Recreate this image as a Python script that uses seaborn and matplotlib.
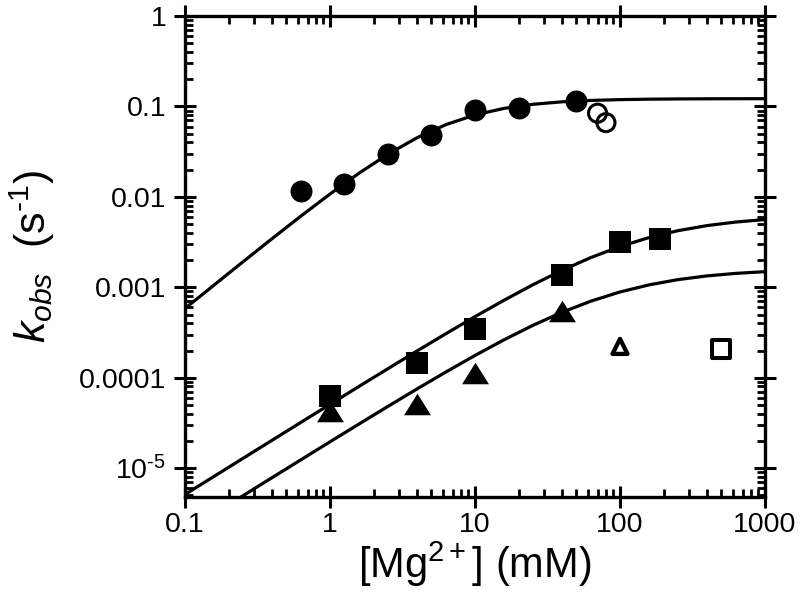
import matplotlib
matplotlib.use("Agg")
import matplotlib.pyplot as plt
import seaborn as sns
import pandas as pd
from matplotlib.ticker import FixedLocator, FixedFormatter, LogLocator, NullFormatter
from matplotlib.markers import MarkerStyle
from matplotlib.path import Path

# ---------------- data ----------------
circle_x = [0.63, 1.25, 2.5, 5, 10, 20, 50]
circle_y = [0.0115, 0.0140, 0.0297, 0.0485, 0.0917, 0.0958, 0.1153]
open_circle_x = [70, 80]
open_circle_y = [0.0842, 0.0662]

square_x = [1, 4, 10, 40, 100, 190]
square_y = [6.35e-5, 1.46e-4, 3.42e-4, 1.365e-3, 3.19e-3, 3.42e-3]
open_square_x = [500]
open_square_y = [2.06e-4]

triangle_x = [1, 4, 10, 40]
triangle_y = [4.25e-5, 5.06e-5, 1.135e-4, 5.47e-4]
open_triangle_x = [100]
open_triangle_y = [2.22e-4]

# fitted curves
fit_x = [0.1, 0.1585, 0.2512, 0.3981, 0.631, 1.0, 1.585, 2.512, 3.981, 6.31,
         10.0, 15.85, 25.12, 39.81, 63.1, 100.0, 158.5, 251.2, 398.1, 631.0, 1000.0]
fit_circle_y = [0.000583, 0.001058, 0.001915, 0.003448, 0.006143, 0.010752,
                0.018277, 0.029659, 0.045057, 0.062993, 0.080585, 0.095178,
                0.105664, 0.112462, 0.116578, 0.118965, 0.120316, 0.121070,
                0.121489, 0.121719, 0.121845]
fit_square_y = [5.118e-6, 8.108e-6, 1.2841e-5, 2.0325e-5, 3.2155e-5, 5.0806e-5,
                8.015e-5, 1.2609e-4, 1.9751e-4, 3.0743e-4, 4.7368e-4, 7.1916e-4,
                1.06843e-3, 1.5405e-3, 2.1361e-3, 2.8251e-3, 3.5473e-3, 4.2292e-3,
                4.8130e-3, 5.2723e-3, 5.6100e-3]
fit_triangle_y = [1.978e-6, 3.133e-6, 4.959e-6, 7.845e-6, 1.2399e-5, 1.9563e-5,
                  3.0788e-5, 4.8254e-5, 7.5157e-5, 1.15957e-4, 1.7634e-4, 2.6267e-4,
                  3.8003e-4, 5.2922e-4, 7.0354e-4, 8.8803e-4, 1.06415e-3, 1.21633e-3,
                  1.33698e-3, 1.42624e-3, 1.48895e-3]

x_ticks = [0.1, 1, 10, 100, 1000]
x_tick_labels = ["0.1", "1", "10", "100", "1000"]
y_ticks = [1e-5, 1e-4, 1e-3, 1e-2, 1e-1, 1]
y_tick_labels = [r"10$^{\text{-}5}$", "0.0001", "0.001", "0.01", "0.1", "1"]

x_label = r"[Mg$^{2+}$] (mM)"
y_label = r"$k_{obs}$  (s$^{\text{-}1}$)"

# ---------------- style ----------------
sns.set_style("ticks")
plt.rcParams["font.family"] = ["Liberation Sans", "DejaVu Sans"]
plt.rcParams["mathtext.fontset"] = "custom"
plt.rcParams["mathtext.rm"] = "Liberation Sans"
plt.rcParams["mathtext.it"] = "Liberation Sans:italic"
plt.rcParams["mathtext.bf"] = "Liberation Sans:bold"
plt.rcParams["text.color"] = "black"
plt.rcParams["axes.labelcolor"] = "black"

fig = plt.figure(figsize=(8.0, 5.93), dpi=100)
ax = fig.add_axes([0.23125, 0.1619, 0.725, 0.8111])

# curves
fits = pd.DataFrame({"x": fit_x, "c": fit_circle_y, "s": fit_square_y, "t": fit_triangle_y})
for col in ["c", "s", "t"]:
    sns.lineplot(data=fits, x="x", y=col, ax=ax, color="black", linewidth=2.3,
                 estimator=None, sort=False, zorder=2)

tri = MarkerStyle(Path([(-1, -0.8), (1, -0.8), (0, 0.8), (-1, -0.8)],
                       [Path.MOVETO, Path.LINETO, Path.LINETO, Path.CLOSEPOLY]))

# filled markers
sns.scatterplot(x=triangle_x, y=triangle_y, ax=ax, marker=tri, s=376,
                color="black", edgecolor="black", linewidth=0, zorder=3)
sns.scatterplot(x=square_x, y=square_y, ax=ax, marker="s", s=266,
                color="black", edgecolor="black", linewidth=0, zorder=4)
sns.scatterplot(x=circle_x, y=circle_y, ax=ax, marker="o", s=250,
                color="black", edgecolor="black", linewidth=0, zorder=4)
# open markers
sns.scatterplot(x=open_circle_x, y=open_circle_y, ax=ax, marker="o", s=169,
                facecolor="none", edgecolor="black", linewidth=2.2, zorder=4)
sns.scatterplot(x=open_square_x, y=open_square_y, ax=ax, marker="s", s=169,
                facecolor="none", edgecolor="black", linewidth=2.9, zorder=4)
sns.scatterplot(x=open_triangle_x, y=open_triangle_y, ax=ax, marker="^", s=117,
                facecolor="none", edgecolor="black", linewidth=3.1, zorder=4)

ax.set_xscale("log")
ax.set_yscale("log")
ax.set_xlim(0.1, 1000)
ax.set_ylim(4.8e-6, 1)

ax.xaxis.set_major_locator(FixedLocator(x_ticks))
ax.xaxis.set_major_formatter(FixedFormatter(x_tick_labels))
ax.yaxis.set_major_locator(FixedLocator(y_ticks))
ax.yaxis.set_major_formatter(FixedFormatter(y_tick_labels))
for axis in (ax.xaxis, ax.yaxis):
    axis.set_minor_locator(LogLocator(base=10, subs=[2, 3, 4, 5, 6, 7, 8, 9], numticks=20))
    axis.set_minor_formatter(NullFormatter())

for sp in ax.spines.values():
    sp.set_linewidth(2.4)
    sp.set_color("black")
    sp.set_visible(True)

ax.tick_params(which="major", direction="inout", length=16, width=2.2,
               top=True, right=True, labelsize=20.5, colors="black")
ax.tick_params(axis="y", which="major", pad=5.5)
ax.tick_params(axis="x", which="major", pad=3)
ax.tick_params(which="minor", direction="in", length=5.5, width=2.0,
               top=True, right=True, colors="black")

ax.set_xlabel(x_label, fontsize=30, labelpad=1, color="black")
ax.set_ylabel(y_label, fontsize=31, labelpad=16, color="black")
ax.grid(False)

fig.savefig("out.png", dpi=100)
